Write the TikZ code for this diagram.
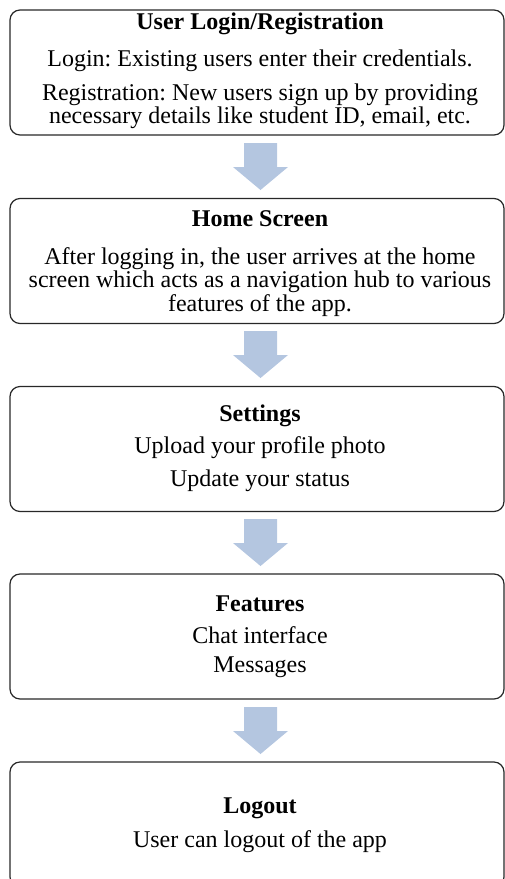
\documentclass[tikz,border=0pt]{standalone}
\usepackage{fontspec}
\setmainfont{Liberation Serif}
\frenchspacing
\definecolor{arrowblue}{RGB}{180,198,224}
\definecolor{boxline}{RGB}{40,40,40}
\begin{document}
\begin{tikzpicture}[x=0.75pt,y=-0.75pt,
  stepbox/.style={draw=boxline,line width=0.9pt,rounded corners=7.5pt,
    minimum width=494*0.75pt,minimum height=125*0.75pt,inner sep=0pt},
  txt/.style={font=\fontsize{18}{17.6}\selectfont,align=center,inner sep=0pt},
  ttl/.style={txt,font=\fontsize{18}{17.6}\selectfont\bfseries}]
\useasboundingbox (0,0) rectangle (505,879);
% boxes
\node[stepbox] (b1) at (257,72.5) {};
\node[stepbox] (b2) at (257,261) {};
\node[stepbox] (b3) at (257,449) {};
\node[stepbox] (b4) at (257,636.5) {};
\node[stepbox] (b5) at (257,824.5) {};
% block arrows (top centre of each)
\coordinate (a1) at (260.5,143);
\coordinate (a2) at (260.5,331);
\coordinate (a3) at (260.5,519);
\coordinate (a4) at (260.5,707);
\foreach \a in {a1,a2,a3,a4}
  \fill[arrowblue] (\a) ++(-16.5,0) -- ++(33,0) -- ++(0,24) -- ++(11,0)
    -- ++(-27.5,23) -- ++(-27.5,-23) -- ++(11,0) -- cycle;
% texts
\node[ttl] (t1) at (260,24) {User Login/Registration};
\node[txt] (t1a) at (260,61) {Login: Existing users enter their credentials.};
\node[txt] (t1b) at (260,106) {Registration: New users sign up by providing\\necessary details like student ID, email, etc.};
\node[ttl] (t2) at (260,219) {Home Screen};
\node[txt] (t2a) at (260,282) {After logging in, the user arrives at the home\\screen which acts as a navigation hub to various\\features of the app.};
\node[ttl] (t3) at (260,416) {Settings};
\node[txt] (t3a) at (260,448) {Upload your profile photo};
\node[txt] (t3b) at (260,481) {Update your status};
\node[ttl] (t4) at (260,604) {Features};
\node[txt] (t4a) at (260,635) {Chat interface};
\node[txt] (t4b) at (260,667) {Messages};
\node[ttl] (t5) at (260,808) {Logout};
\node[txt] (t5a) at (260,842) {User can logout of the app};
\end{tikzpicture}
\end{document}
